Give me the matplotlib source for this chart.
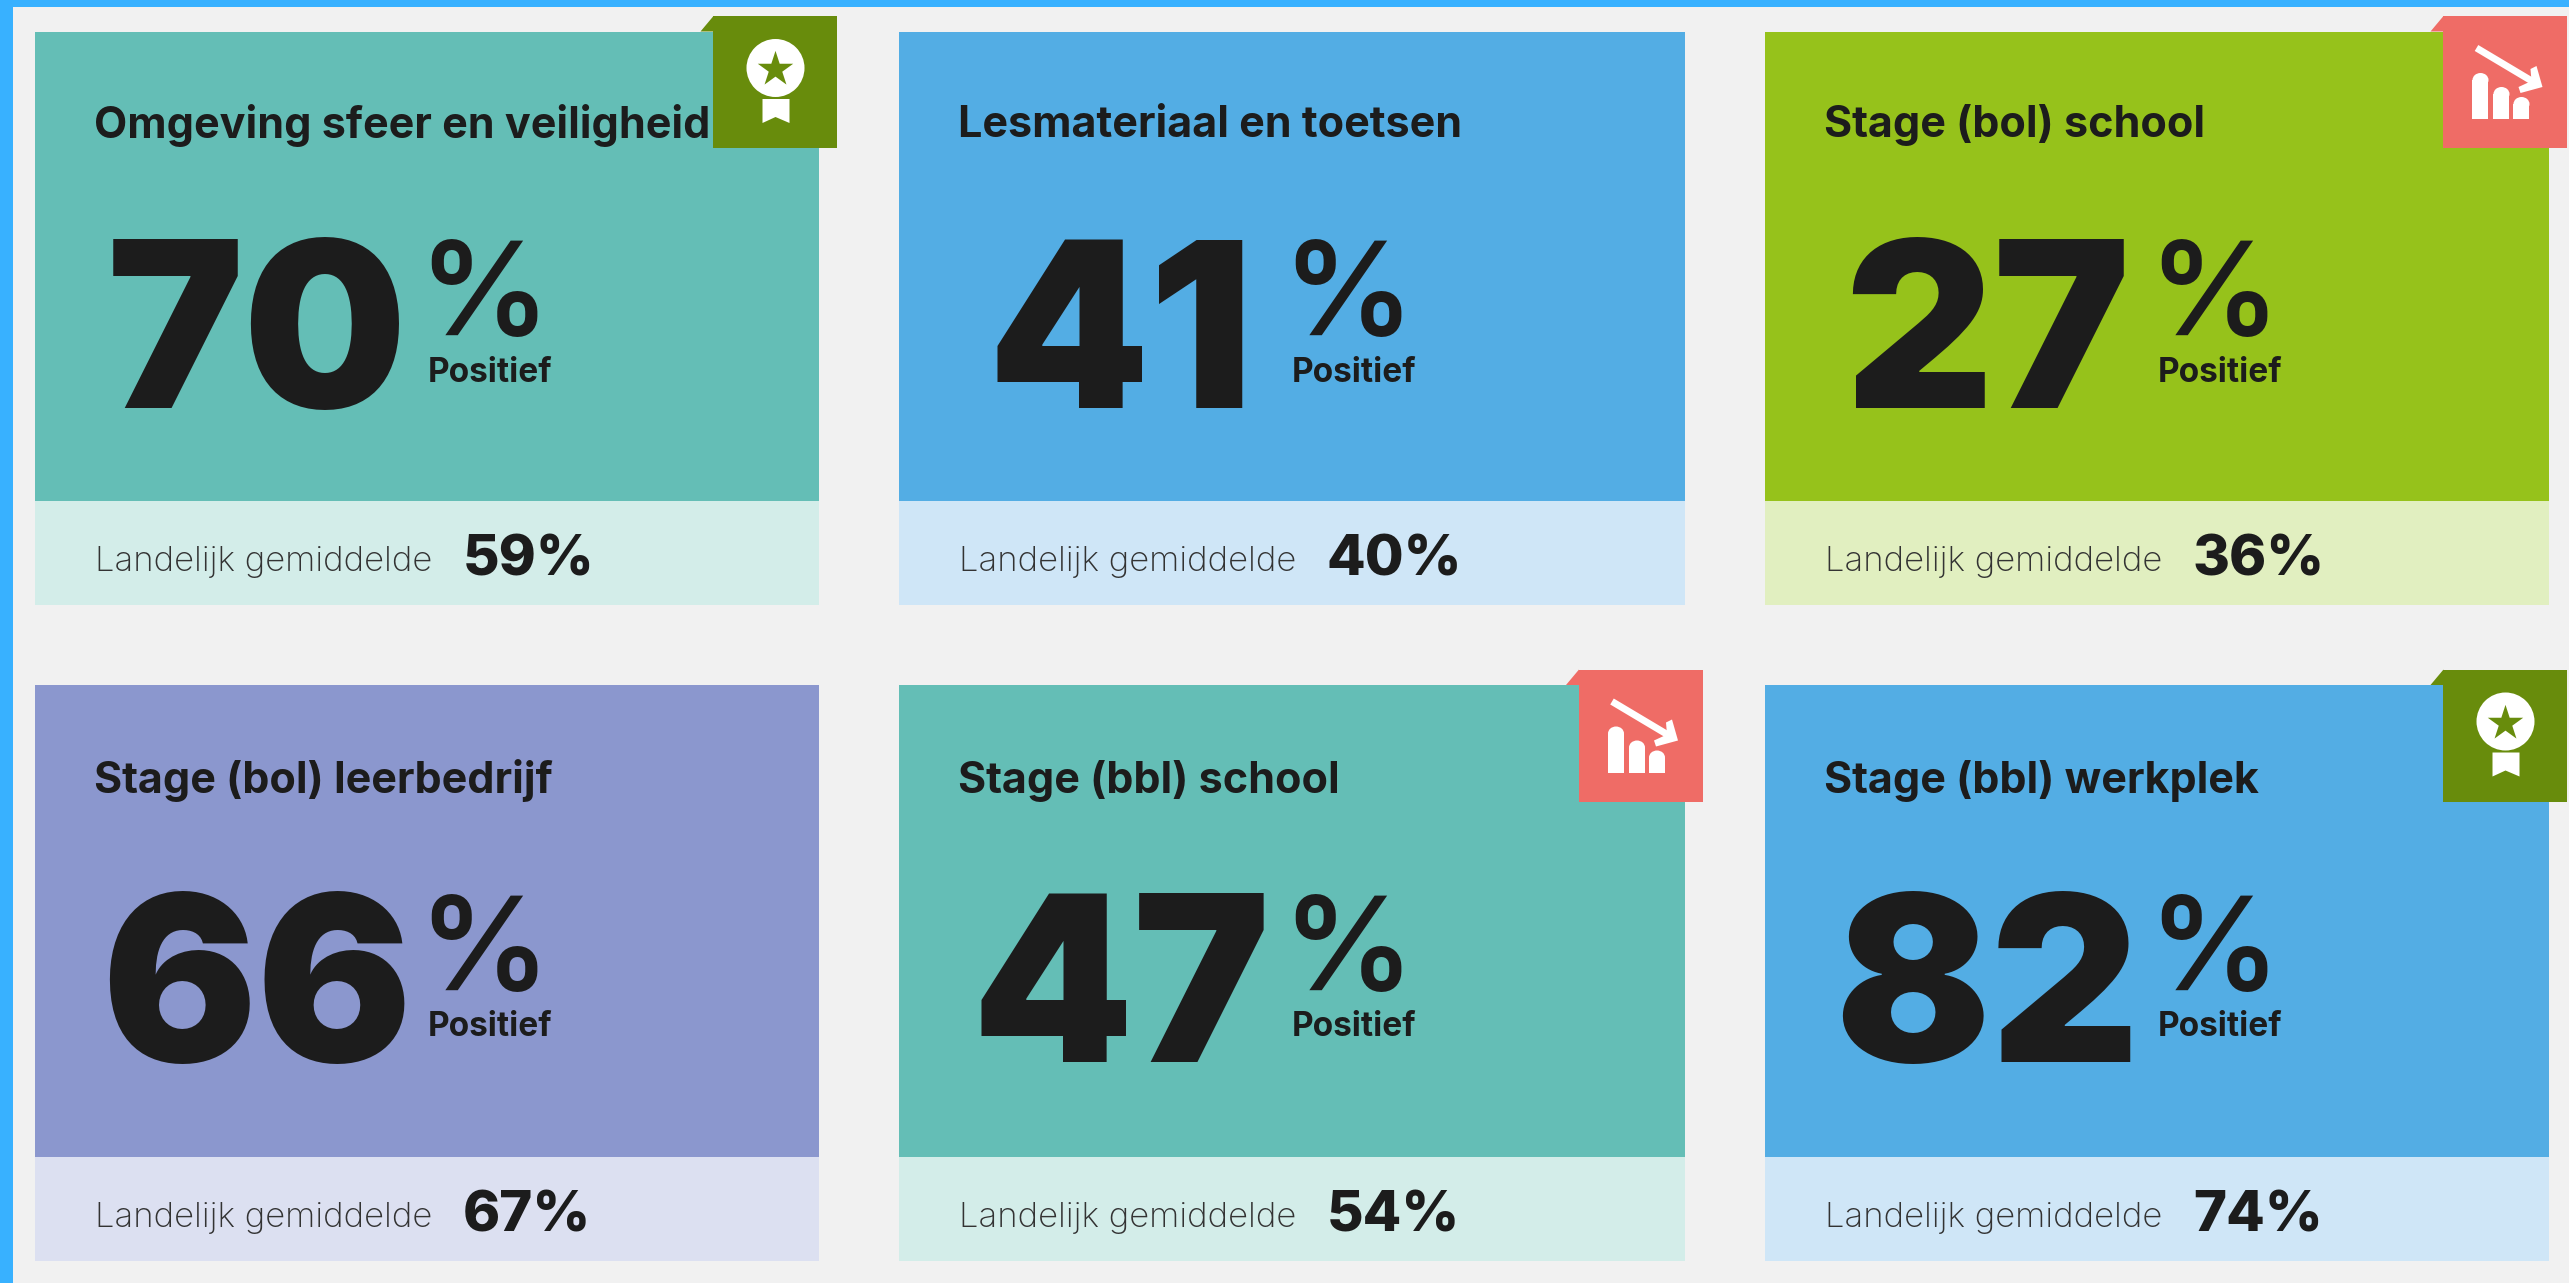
import matplotlib
matplotlib.use("Agg")
from matplotlib import pyplot as plt
from matplotlib.patches import Rectangle, Polygon, Circle, Ellipse

# card contents, row by row
titles = ["Omgeving sfeer en veiligheid", "Lesmateriaal en toetsen", "Stage (bol) school",
          "Stage (bol) leerbedrijf", "Stage (bbl) school", "Stage (bbl) werkplek"]
positief = [70, 41, 27, 66, 47, 82]
landelijk = [59, 40, 36, 67, 54, 74]
badges = ["award", None, "down", None, "down", "award"]
colors = ["#64BEB6", "#53ADE4", "#96C21B", "#8B97CE", "#64BEB6", "#53ADE4"]
lights = ["#D3EDE9", "#CFE6F7", "#E1EFC0", "#DCE0F1", "#D3EDE9", "#CFE6F7"]

card_x = [35, 899, 1765]
card_y = [31.5, 685]
text_y = [31.5, 686.5]  # second row text sits a little lower
card_w = [784.5, 786, 784.5]
top_h = [469.5, 471.5]
bot_h = 104

ink = "#1C1C1C"
font = "Inter"
bg = "#F1F1F1"
edge = "#38B1FF"
award_col = "#688C0C"
down_col = "#EF6C66"

fig = plt.figure(figsize=(25.69, 12.83), dpi=100, facecolor=bg)
ax = fig.add_axes([0, 0, 1, 1])
ax.set_xlim(0, 2569)
ax.set_ylim(1283, 0)
ax.axis("off")

# page border, only left and top
ax.add_patch(Rectangle((0, 0), 13, 1283, color=edge, lw=0))
ax.add_patch(Rectangle((0, 0), 2569, 7, color=edge, lw=0))


def award(x, y):
    ax.add_patch(Circle((x + 62, y + 52), 29, color="white", lw=0, zorder=5))
    ax.scatter([x + 62], [y + 53], marker="*", s=720, color=award_col, lw=0, zorder=6)
    rib = [(49, 83), (76, 83), (76, 107), (62, 101), (49, 107)]
    ax.add_patch(Polygon([(x + a, y + b) for a, b in rib], color="white", lw=0, zorder=5))


def down(x, y):
    for bx, bw, bt in [(29, 16, 57), (50, 16, 71), (70, 16, 81)]:
        ax.add_patch(Rectangle((x + bx, y + bt + 7), bw, 103 - bt - 7, color="white", lw=0, zorder=5))
        ax.add_patch(Ellipse((x + bx + bw / 2, y + bt + 7), bw, 14, color="white", lw=0, zorder=5))
    ax.plot([x + 33, x + 90], [y + 32, y + 66], color="white", lw=5, zorder=5,
            solid_capstyle="butt")
    head = [(87, 53), (93, 50), (99, 71), (77, 77), (75, 71), (88, 65)]
    ax.add_patch(Polygon([(x + a, y + b) for a, b in head], color="white", lw=0, zorder=5))


for i, title in enumerate(titles):
    col = i % 3
    row = i // 3
    x = card_x[col]
    y = card_y[row]
    ty = text_y[row]
    w = card_w[col]
    h = top_h[row]
    ax.add_patch(Rectangle((x, y), w, h, color=colors[i], lw=0, zorder=2))
    ax.add_patch(Rectangle((x, y + h), w, bot_h, color=lights[i], lw=0, zorder=2))

    ax.text(x + 59, ty + 94, title, fontsize=31, fontweight="bold", family=font,
            color=ink, va="center", zorder=3)
    ax.text(x + 222, ty + 376, str(positief[i]), fontsize=166, fontweight="black", family=font,
            color=ink, va="baseline", ha="center", zorder=3)
    ax.text(x + 383, ty + 303.5, "%", fontsize=94, fontweight="semibold", family=font,
            color=ink, va="baseline", zorder=3)
    ax.text(x + 393, ty + 350, "Positief", fontsize=24, fontweight="bold", family=font,
            color=ink, va="baseline", zorder=3)
    ax.text(x + 60, y + h + 70, "Landelijk gemiddelde", fontsize=25, fontweight="light", family=font,
            color="#333333", va="baseline", zorder=3)
    ax.text(x + 428, y + h + 75, "%d%%" % landelijk[i], fontsize=40.5, fontweight="extra bold", family=font,
            color=ink, va="baseline", zorder=3)

    if badges[i]:
        c = award_col if badges[i] == "award" else down_col
        bx = x + w + 18 - 124
        by = y - 15.5
        ax.add_patch(Polygon([(bx - 13, y), (bx, by), (bx, y)], color=c, lw=0, zorder=1))
        ax.add_patch(Rectangle((bx, by), 124, 132, color=c, lw=0, zorder=4))
        if badges[i] == "award":
            award(bx, by)
        else:
            down(bx, by)

fig.savefig("out.png", dpi=100, facecolor=bg)
